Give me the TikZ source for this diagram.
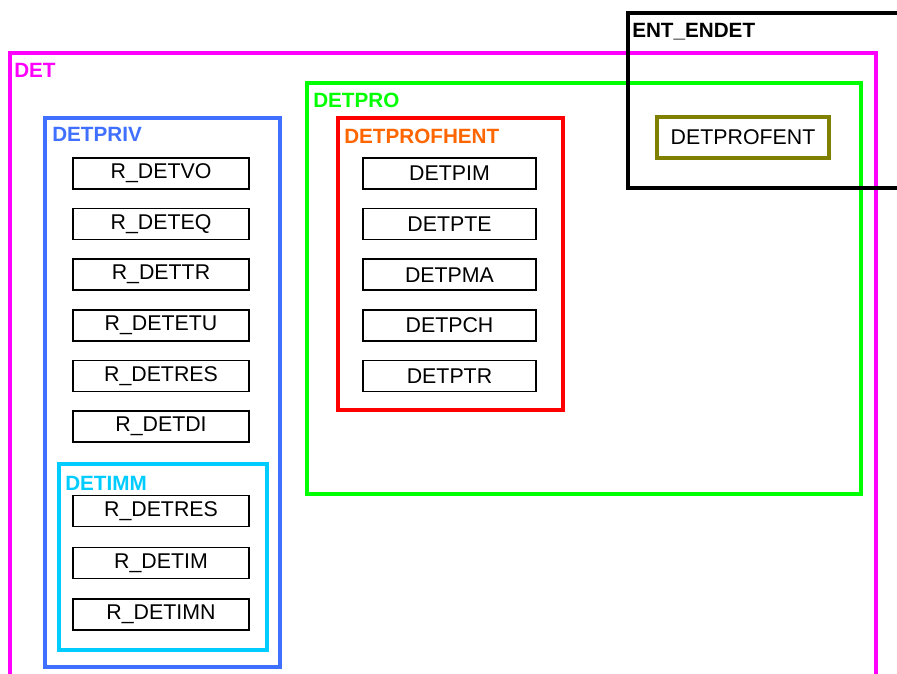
\documentclass[tikz,border=0pt]{standalone}
\usepackage{fontspec}
\setmainfont{Liberation Sans}
\usetikzlibrary{positioning}

\definecolor{detmag}{RGB}{255,0,255}
\definecolor{progreen}{RGB}{0,255,0}
\definecolor{profred}{RGB}{255,0,0}
\definecolor{proforange}{RGB}{255,102,0}
\definecolor{privblue}{RGB}{64,112,255}
\definecolor{immcyan}{RGB}{0,204,255}
\definecolor{entolive}{RGB}{128,128,0}

\begin{document}
\begin{tikzpicture}[
x=0.75pt, y=-0.75pt,
node distance=13.6pt,
item/.style={draw, line width=1.1pt, minimum width=132pt, minimum height=23.25pt, inner sep=0pt, font=\fontsize{16}{18}\selectfont},
group/.style={line width=2.6pt},
title/.style={anchor=base west, inner sep=0pt, font=\fontsize{15.5}{18}\selectfont\bfseries},
]

\clip (0,0) rectangle (897,674);
\fill[white] (0,0) rectangle (897,674);

% outer groups
\draw[group, detmag] (10,53) rectangle (876,700);
\node[title, text=detmag] (tdet) at (14,78) {DET};

\draw[group, privblue] (45,118) rectangle (280,667);
\node[title, text=privblue] (tpriv) at (52,142) {DETPRIV};

\draw[group, immcyan] (59,464) rectangle (267,650);
\node[title, text=immcyan] (timm) at (65,490) {DETIMM};

\draw[group, progreen] (307,83) rectangle (861,494);
\node[title, text=progreen] (tpro) at (313,108) {DETPRO};

\draw[group, profred] (338,118) rectangle (563,410);
\node[title, text=proforange] (tprof) at (344,143) {DETPROFHENT};

% left column
\node[item] (nvo) at (161,173.5) {R\_DETVO};
\node[item] (neq) [below=of nvo] {R\_DETEQ};
\node[item] (ntr) [below=of neq] {R\_DETTR};
\node[item] (netu) [below=of ntr] {R\_DETETU};
\node[item] (nres) [below=of netu] {R\_DETRES};
\node[item] (ndi) [below=of nres] {R\_DETDI};

\node[item] (nires) at (161,511) {R\_DETRES};
\node[item] (nim) [below=14.5pt of nires] {R\_DETIM};
\node[item] (nimn) [below=14.5pt of nim] {R\_DETIMN};

% middle column
\node[item, minimum width=129.75pt] (npim) at (449.5,173.5) {DETPIM};
\node[item, minimum width=129.75pt] (npte) [below=of npim] {DETPTE};
\node[item, minimum width=129.75pt] (npma) [below=of npte] {DETPMA};
\node[item, minimum width=129.75pt] (npch) [below=of npma] {DETPCH};
\node[item, minimum width=129.75pt] (nptr) [below=of npch] {DETPTR};

% entity box
\node[item, draw=entolive, line width=2.3pt, minimum width=129pt, minimum height=30.75pt] (nent) at (743,137.5) {DETPROFENT};

\draw[group, black] (628,13) rectangle (920,188);
\node[title] (tent) at (632,38) {ENT\_ENDET};

\end{tikzpicture}
\end{document}
